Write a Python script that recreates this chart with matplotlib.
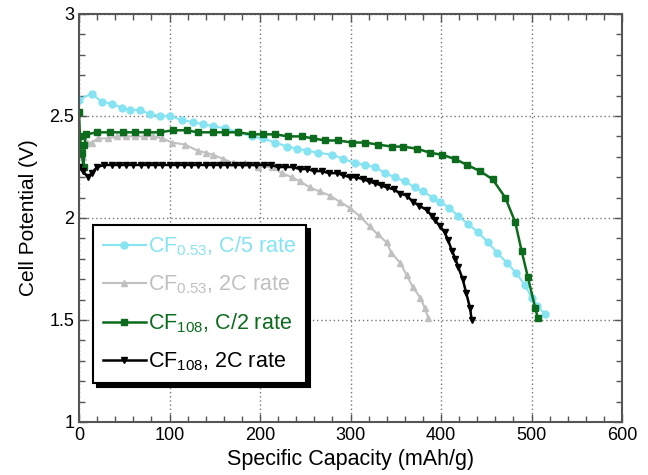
import matplotlib
matplotlib.use("Agg")
import matplotlib.pyplot as plt
from matplotlib.ticker import MultipleLocator

plt.rcParams['font.family'] = ['Liberation Sans', 'DejaVu Sans']
plt.rcParams['mathtext.default'] = 'regular'

# CF0.53 discharged at C/5
cf053_c5_x = [0, 14, 25, 36, 48, 56, 67, 78, 89, 100, 114, 126, 137, 148, 161, 176,
              191, 203, 217, 230, 241, 252, 264, 280, 292, 305, 316, 327, 338, 349,
              360, 371, 380, 391, 399, 409, 419, 430, 441, 452, 462, 473, 483, 493,
              500, 506, 515]
cf053_c5_y = [2.58, 2.61, 2.57, 2.56, 2.54, 2.53, 2.53, 2.51, 2.50, 2.50, 2.48, 2.47,
              2.46, 2.45, 2.44, 2.42, 2.40, 2.39, 2.37, 2.35, 2.34, 2.33, 2.32, 2.31,
              2.29, 2.27, 2.26, 2.25, 2.22, 2.20, 2.18, 2.15, 2.13, 2.10, 2.08, 2.05,
              2.01, 1.97, 1.93, 1.88, 1.83, 1.78, 1.73, 1.67, 1.61, 1.57, 1.53]

# CF0.53 discharged at 2C
cf053_2c_x = [4, 9, 14, 21, 32, 42, 52, 62, 72, 82, 92, 103, 117, 131, 140, 148, 159,
              170, 183, 198, 213, 224, 235, 244, 255, 266, 277, 288, 299, 310, 321,
              330, 340, 345, 355, 362, 369, 377, 382, 386]
cf053_2c_y = [2.30, 2.37, 2.37, 2.39, 2.39, 2.40, 2.40, 2.40, 2.40, 2.40, 2.39, 2.37,
              2.36, 2.33, 2.32, 2.31, 2.29, 2.27, 2.27, 2.25, 2.25, 2.22, 2.20, 2.18,
              2.15, 2.13, 2.11, 2.08, 2.05, 2.01, 1.96, 1.92, 1.88, 1.83, 1.78, 1.72,
              1.66, 1.61, 1.56, 1.51]

# CF1.08 discharged at C/2
cf108_c2_x = [0, 1, 3, 5, 6, 8, 20, 34, 49, 62, 75, 89, 104, 119, 131, 148, 161, 176,
              191, 203, 217, 231, 246, 259, 272, 286, 302, 316, 330, 346, 358, 373,
              388, 401, 415, 429, 443, 457, 471, 482, 489, 496, 504, 507]
cf108_c2_y = [2.52, 2.40, 2.32, 2.25, 2.36, 2.41, 2.42, 2.42, 2.42, 2.42, 2.42, 2.42,
              2.43, 2.43, 2.42, 2.42, 2.42, 2.42, 2.41, 2.41, 2.41, 2.40, 2.40, 2.39,
              2.38, 2.38, 2.37, 2.37, 2.36, 2.35, 2.35, 2.34, 2.32, 2.31, 2.29, 2.26,
              2.23, 2.19, 2.10, 1.98, 1.84, 1.71, 1.56, 1.51]

# CF1.08 discharged at 2C
cf108_2c_x = [0, 4, 10, 14, 20, 28, 36, 44, 52, 60, 68, 76, 84, 92, 100, 108, 116, 124,
              132, 140, 148, 156, 164, 172, 180, 188, 196, 204, 212, 220, 228, 236,
              244, 252, 260, 268, 276, 285, 292, 299, 306, 314, 320, 327, 334, 340,
              348, 355, 362, 369, 376, 384, 390, 393, 399, 404, 408, 412, 416, 419,
              424, 428, 432, 434]
cf108_2c_y = [2.25, 2.23, 2.20, 2.22, 2.25, 2.26, 2.26, 2.26, 2.26, 2.26, 2.26, 2.26,
              2.26, 2.26, 2.26, 2.26, 2.26, 2.26, 2.26, 2.26, 2.26, 2.26, 2.26, 2.26,
              2.26, 2.26, 2.26, 2.26, 2.26, 2.25, 2.25, 2.25, 2.24, 2.24, 2.23, 2.23,
              2.22, 2.22, 2.21, 2.20, 2.20, 2.19, 2.18, 2.17, 2.16, 2.15, 2.14, 2.12,
              2.11, 2.08, 2.06, 2.04, 2.01, 1.99, 1.96, 1.93, 1.89, 1.84, 1.80, 1.76,
              1.70, 1.63, 1.56, 1.50]

CYAN = '#86e3f2'
GRAY = '#c0c0c0'
GREEN = '#0c6b1c'
BLACK = '#000000'

fig = plt.figure(figsize=(6.48, 4.75), dpi=100)
ax = fig.add_axes([79 / 648, 53 / 475, 543 / 648, 408 / 475])

ax.plot(cf053_c5_x, cf053_c5_y, color=CYAN, lw=1.5, marker='o', ms=5,
        mec=CYAN, label='CF$_{0.53}$, C/5 rate')
ax.plot(cf053_2c_x, cf053_2c_y, color=GRAY, lw=1.5, marker='^', ms=5,
        mec=GRAY, label='CF$_{0.53}$, 2C rate')
ax.plot(cf108_c2_x, cf108_c2_y, color=GREEN, lw=1.8, marker='s', ms=5,
        mec=GREEN, label='CF$_{108}$, C/2 rate')
ax.plot(cf108_2c_x, cf108_2c_y, color=BLACK, lw=1.8, marker='v', ms=5,
        mec=BLACK, label='CF$_{108}$, 2C rate')

ax.set_xlim(0, 600)
ax.set_ylim(1, 3)
ax.xaxis.set_major_locator(MultipleLocator(100))
ax.xaxis.set_minor_locator(MultipleLocator(20))
ax.yaxis.set_minor_locator(MultipleLocator(0.1))
ax.set_yticks([1, 1.5, 2, 2.5, 3])
ax.set_yticklabels(['1', '1.5', '2', '2.5', '3'])

ax.tick_params(which='both', direction='in', top=True, right=True, colors='#555555',
               labelcolor='black', labelsize=13)
ax.tick_params(which='major', length=6, width=1)
ax.tick_params(which='minor', length=4, width=1)
for s in ax.spines.values():
    s.set_color('#555555')
    s.set_linewidth(1.5)

ax.grid(True, which='major', linestyle=(0, (1, 2)), color='#777777', lw=1)

ax.set_xlabel('Specific Capacity (mAh/g)', fontsize=15.5, labelpad=4)
ax.set_ylabel('Cell Potential (V)', fontsize=15, labelpad=8)

leg = ax.legend(loc='lower left', bbox_to_anchor=(0.026, 0.096), borderaxespad=0,
                fontsize=15.5, fancybox=False,
                shadow={'color': 'black', 'alpha': 1, 'ox': 3, 'oy': -3},
                framealpha=1, edgecolor='black', handlelength=2.0,
                handletextpad=0.1, borderpad=0.45, labelspacing=0.72)
leg.get_frame().set_linewidth(1.5)
for txt, col in zip(leg.get_texts(), [CYAN, GRAY, GREEN, BLACK]):
    txt.set_color(col)

fig.savefig('out.png', dpi=100)
